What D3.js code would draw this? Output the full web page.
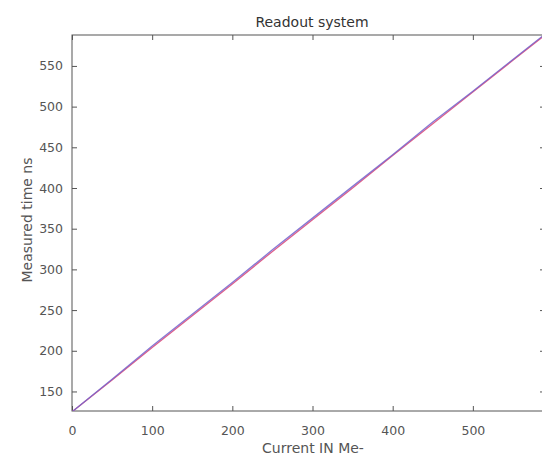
<!DOCTYPE html>
<html><head><meta charset="utf-8">
<script src="https://cdn.jsdelivr.net/npm/d3@7"></script>
<style>body{margin:0;background:#fff;}svg{display:block;}text{font-family:"DejaVu Sans",Verdana,sans-serif;}</style>
</head><body>
<svg id="c" width="542" height="455"></svg>
<script>
const currentIN = [0,50,100,150,200,250,300,350,400,450,500,550,590];
const seriesRed = [125,164,204,243,282,322,361,400,440,479,518,557,588];
const seriesBlue = [125,165,206,245,284,324,363,402,441,481,519,558,589];
const xTicks = [0,100,200,300,400,500];
const yTicks = [150,200,250,300,350,400,450,500,550];
const titleText = "Readout system";
const xLabel = "Current IN Me-";
const yLabel = "Measured time ns";

const svg = d3.select("#c");
const L=72, R=545, T=35, B=411;
const x = d3.scaleLinear().domain([0,590]).range([L,R]);
const y = d3.scaleLinear().domain([126,588]).range([B,T]);
const axisCol = "#555", textCol="#555";

const g = svg.append("g");
g.append("rect").attr("x",L).attr("y",T).attr("width",R-L).attr("height",B-T)
 .attr("fill","none").attr("stroke",axisCol).attr("stroke-width",1);

const xb = g.append("g").attr("transform",`translate(0,${B})`)
 .call(d3.axisBottom(x).tickValues(xTicks).tickSize(-5).tickPadding(15).tickFormat(d3.format("d")));
const xt = g.append("g").attr("transform",`translate(0,${T})`)
 .call(d3.axisTop(x).tickValues(xTicks).tickSize(-5).tickFormat(""));
const yl = g.append("g").attr("transform",`translate(${L},0)`)
 .call(d3.axisLeft(y).tickValues(yTicks).tickSize(-5).tickPadding(9).tickFormat(d3.format("d")));
const yr = g.append("g").attr("transform",`translate(${R},0)`)
 .call(d3.axisRight(y).tickValues(yTicks).tickSize(-5).tickFormat(""));
[xb,xt,yl,yr].forEach(a=>{
  a.select(".domain").remove();
  a.selectAll("line").attr("stroke",axisCol);
  a.selectAll("text").attr("fill",textCol).style("font-size","12.5px").style("font-family","'DejaVu Sans',sans-serif");
});

const line = d3.line().x((d,i)=>x(currentIN[i])).y(d=>y(d));
svg.append("clipPath").attr("id","cl").append("rect")
 .attr("x",L).attr("y",T).attr("width",R-L).attr("height",B-T);
g.append("path").datum(seriesRed).attr("d",line).attr("fill","none")
 .attr("stroke","#e0608a").attr("stroke-width",1.3).attr("clip-path","url(#cl)");
g.append("path").datum(seriesBlue).attr("d",line).attr("fill","none")
 .attr("stroke","#7262cc").attr("stroke-width",1.3).attr("stroke-opacity",0.85).attr("clip-path","url(#cl)");

svg.append("text").attr("x",312).attr("y",27).attr("text-anchor","middle")
 .attr("fill","#333").style("font-size","14px").text(titleText);
svg.append("text").attr("x",313).attr("y",453).attr("text-anchor","middle")
 .attr("fill",textCol).style("font-size","14px").text(xLabel);
svg.append("text").attr("transform","translate(32,220) rotate(-90)").attr("text-anchor","middle")
 .attr("fill",textCol).style("font-size","14px").text(yLabel);
</script>
</body></html>
